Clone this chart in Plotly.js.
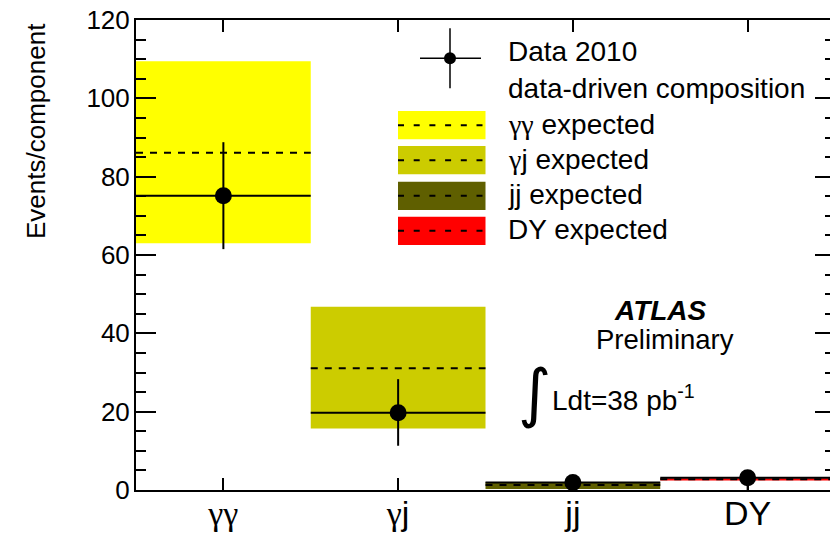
<!DOCTYPE html>
<html>
<head>
<meta charset="utf-8">
<script src="https://cdn.plot.ly/plotly-3.0.1.min.js"></script>
<style>
  html, body { margin: 0; padding: 0; overflow: hidden; background: #fff; }
  #plot { width: 836px; height: 534px; }
</style>
</head>
<body>
<div id="plot"></div>
<script>
// Diphoton sample composition: measured yields vs. expected ranges
const categories   = ['γγ', 'γj', 'jj', 'DY'];
const dataValues   = [75.1, 19.7, 1.9, 3.1];
const dataErrPlus  = [13.7, 8.6, 1.5, 1.5];
const dataErrMinus = [13.6, 8.4, 1.9, 3.1];
const expected     = [86.1, 31.1, 1.3, 2.75];
const expectedLow  = [63.0, 15.7, 0.25, 2.45];
const expectedHigh = [109.5, 46.8, 2.0, 3.0];
const bandColors   = ['#ffff00', '#cccc00', '#5f5f00', '#ff0000'];
const legendLabels = ['γγ expected', 'γj expected', 'jj expected', 'DY expected'];

const FONT = 'Liberation Sans, Arial, sans-serif';

// Geometry of the frame (pixels)
const W = 836, H = 534;
const L = 136, T = 20, PW = 699, PH = 470;
const px = x => (x - L) / PW;
const py = y => (T + PH - y) / PH;

// Greek letters are set in a serif face
const greek = s => s.replace(/γ+/g, m => '<span style="font-family:Liberation Serif">' + m + '</span>');

const centers = categories.map((c, i) => i + 0.5);

// Expected-range bands
const bands = {
  type: 'bar',
  x: centers,
  base: expectedLow,
  y: expectedHigh.map((h, i) => h - expectedLow[i]),
  width: 1,
  marker: { color: bandColors, line: { width: 0 } },
  hoverinfo: 'skip',
  showlegend: false
};

// Expected central values as dashed segments spanning each bin
const ex = [], ey = [];
expected.forEach((v, i) => { ex.push(i, i + 1, null); ey.push(v, v, null); });
const expLines = {
  type: 'scatter', mode: 'lines',
  x: ex, y: ey,
  line: { color: '#000', width: 2, dash: '7px,7px' },
  connectgaps: false, hoverinfo: 'skip', showlegend: false
};

// Measured composition with errors
const dataPts = {
  type: 'scatter', mode: 'markers',
  x: centers, y: dataValues,
  marker: { color: '#000', size: 17 },
  error_x: { type: 'data', array: centers.map(() => 0.5), width: 0, thickness: 2, color: '#000' },
  error_y: { type: 'data', symmetric: false, array: dataErrPlus, arrayminus: dataErrMinus,
             width: 0, thickness: 2, color: '#000' },
  hoverinfo: 'skip', showlegend: false
};

const shapes = [];
const annotations = [];

// Legend: data entry (cross with dot)
shapes.push({ type: 'line', xref: 'paper', yref: 'paper', x0: px(420), x1: px(481), y0: py(58.3), y1: py(58.3), line: { color: '#000', width: 1.5 } });
shapes.push({ type: 'line', xref: 'paper', yref: 'paper', x0: px(450), x1: px(450), y0: py(28.3), y1: py(88.3), line: { color: '#000', width: 1.5 } });
shapes.push({ type: 'circle', xref: 'paper', yref: 'paper', x0: px(444), x1: px(456), y0: py(52.3), y1: py(64.3), fillcolor: '#000', line: { color: '#000', width: 0 } });
annotations.push({ xref: 'paper', yref: 'paper', x: px(506), y: py(52), xanchor: 'left', yanchor: 'middle', showarrow: false,
  text: 'Data 2010', font: { family: FONT, size: 28, color: '#000' } });
annotations.push({ xref: 'paper', yref: 'paper', x: px(506), y: py(88), xanchor: 'left', yanchor: 'middle', showarrow: false,
  text: 'data-driven composition', font: { family: FONT, size: 28, color: '#000' } });

// Legend: expected bands
const boxTops = [111, 146, 181.7, 216.7];
legendLabels.forEach((lab, i) => {
  const t = boxTops[i], b = t + 28.3;
  shapes.push({ type: 'rect', xref: 'paper', yref: 'paper', x0: px(398), x1: px(485.5), y0: py(b), y1: py(t),
    fillcolor: bandColors[i], line: { width: 0 } });
  shapes.push({ type: 'line', xref: 'paper', yref: 'paper', x0: px(398), x1: px(485.5), y0: py((t + b) / 2), y1: py((t + b) / 2),
    line: { color: '#000', width: 2, dash: '6px,9.7px' } });
  annotations.push({ xref: 'paper', yref: 'paper', x: px(506), y: py((t + b) / 2 - 1), xanchor: 'left', yanchor: 'middle', showarrow: false,
    text: greek(lab), font: { family: FONT, size: 28, color: '#000' } });
});

// Experiment label and luminosity
annotations.push({ xref: 'paper', yref: 'paper', x: px(660), y: py(310), xanchor: 'center', yanchor: 'middle', showarrow: false,
  text: '<b><i>ATLAS</i></b>', font: { family: FONT, size: 28, color: '#000' } });
annotations.push({ xref: 'paper', yref: 'paper', x: px(665), y: py(339), xanchor: 'center', yanchor: 'middle', showarrow: false,
  text: 'Preliminary', font: { family: FONT, size: 27.5, color: '#000' } });
annotations.push({ xref: 'paper', yref: 'paper', x: px(534), y: py(393), xanchor: 'center', yanchor: 'middle', showarrow: false,
  text: '∫', font: { family: 'DejaVu Sans, sans-serif', size: 64, color: '#000' } });
annotations.push({ xref: 'paper', yref: 'paper', x: px(550), y: py(398), xanchor: 'left', yanchor: 'middle', showarrow: false,
  text: 'Ldt=38 pb<sup>-1</sup>', font: { family: FONT, size: 28, color: '#000' } });

// Y axis title
annotations.push({ xref: 'paper', yref: 'paper', x: px(36), y: py(131), xanchor: 'center', yanchor: 'middle', showarrow: false,
  textangle: -90, text: 'Events/component', font: { family: FONT, size: 26, color: '#000' } });

const layout = {
  width: W, height: H,
  margin: { l: L, r: W - L - PW, t: T, b: H - T - PH, pad: 0 },
  paper_bgcolor: '#fff', plot_bgcolor: '#fff',
  showlegend: false,
  barmode: 'overlay',
  font: { family: FONT, color: '#000' },
  xaxis: {
    range: [0, 4], showgrid: false, zeroline: false,
    tickmode: 'array', tickvals: centers, ticktext: categories.map(greek),
    ticks: 'inside', ticklen: 12, tickwidth: 2, tickcolor: '#000',
    showline: true, linewidth: 2, linecolor: '#000', mirror: 'ticks',
    tickfont: { family: FONT, size: 34, color: '#000' },
    ticklabelstandoff: -8
  },
  yaxis: {
    range: [0, 120], showgrid: false, zeroline: false,
    tickmode: 'linear', tick0: 0, dtick: 20,
    ticks: 'inside', ticklen: 20, tickwidth: 2, tickcolor: '#000',
    minor: { dtick: 5, ticks: 'inside', ticklen: 10, tickwidth: 2, tickcolor: '#000' },
    showline: true, linewidth: 2, linecolor: '#000', mirror: 'ticks',
    tickfont: { family: FONT, size: 26, color: '#000' },
    ticklabelstandoff: -1
  },
  shapes: shapes,
  annotations: annotations
};

Plotly.newPlot('plot', [bands, expLines, dataPts], layout, { staticPlot: true, displayModeBar: false });
</script>
</body>
</html>
